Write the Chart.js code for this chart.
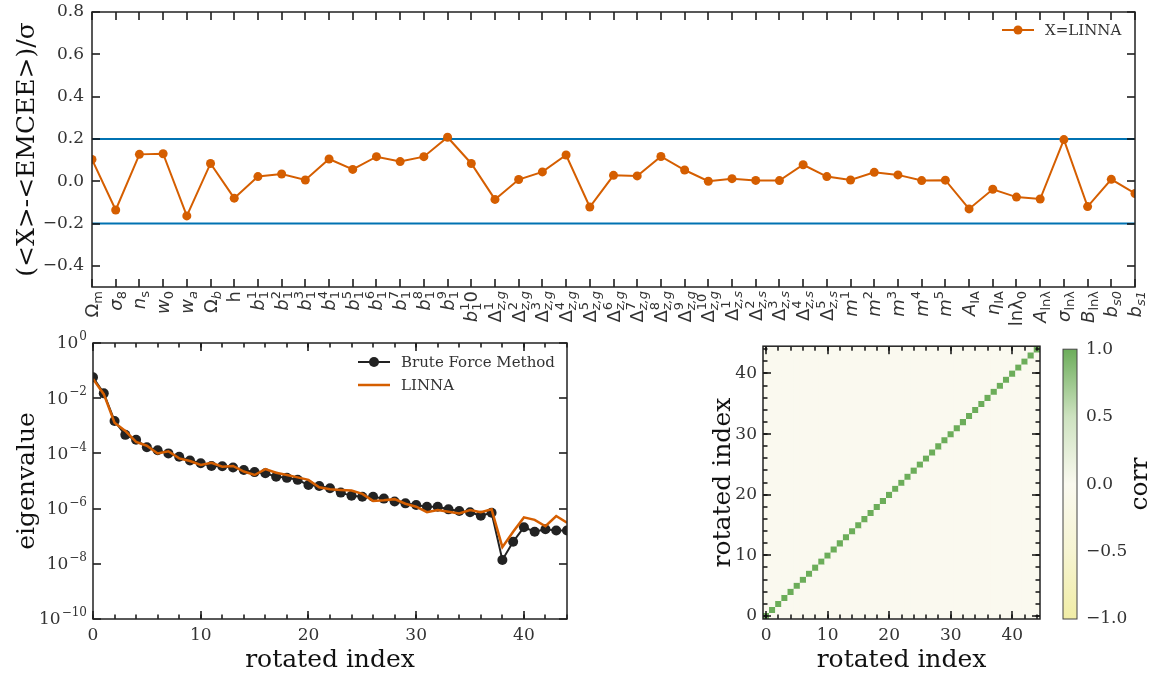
<!DOCTYPE html>
<html lang="en">
<head>
<meta charset="utf-8">
<title>LINNA vs EMCEE</title>
<style>
  body { margin: 0; background: #fff; width: 1164px; height: 676px; position: relative; overflow: hidden; }
  .box { position: absolute; }
  #topBox  { left: 0;      top: 0;     width: 1164px; height: 330px; }
  #eigBox  { left: 0;      top: 330px; width: 600px;  height: 346px; }
  #corrBox { left: 690px;  top: 330px; width: 360px;  height: 346px; }
  #cbarBox { left: 1050px; top: 330px; width: 114px;  height: 346px; }
</style>
</head>
<body>
<div class="box" id="topBox"><canvas id="topChart"></canvas></div>
<div class="box" id="eigBox"><canvas id="eigChart"></canvas></div>
<div class="box" id="corrBox"><canvas id="corrChart"></canvas></div>
<div class="box" id="cbarBox"><canvas id="cbarChart"></canvas></div>

<script src="https://cdn.jsdelivr.net/npm/chart.js@4/dist/chart.umd.min.js"></script>
<script>
// ---- data ----
// parameter labels: [base, baseItalic, sub, subItalic, sup, tail]
const paramLabels = [
  ['Ω', 0, 'm', 0], ['σ', 1, '8', 0], ['n', 1, 's', 0], ['w', 1, '0', 0], ['w', 1, 'a', 1],
  ['Ω', 0, 'b', 1], ['h', 0],
  ['b', 1, '1', 0, '1'], ['b', 1, '1', 0, '2'], ['b', 1, '1', 0, '3'], ['b', 1, '1', 0, '4'],
  ['b', 1, '1', 0, '5'], ['b', 1, '1', 0, '6'], ['b', 1, '1', 0, '7'], ['b', 1, '1', 0, '8'],
  ['b', 1, '1', 0, '9'], ['b', 1, '1', 0, '1', '0'],
  ['Δ', 0, 'z,g', 1, '1'], ['Δ', 0, 'z,g', 1, '2'], ['Δ', 0, 'z,g', 1, '3'], ['Δ', 0, 'z,g', 1, '4'],
  ['Δ', 0, 'z,g', 1, '5'], ['Δ', 0, 'z,g', 1, '6'], ['Δ', 0, 'z,g', 1, '7'], ['Δ', 0, 'z,g', 1, '8'],
  ['Δ', 0, 'z,g', 1, '9'], ['Δ', 0, 'z,g', 1, '10'],
  ['Δ', 0, 'z,s', 1, '1'], ['Δ', 0, 'z,s', 1, '2'], ['Δ', 0, 'z,s', 1, '3'], ['Δ', 0, 'z,s', 1, '4'],
  ['Δ', 0, 'z,s', 1, '5'],
  ['m', 1, '', 0, '1'], ['m', 1, '', 0, '2'], ['m', 1, '', 0, '3'], ['m', 1, '', 0, '4'], ['m', 1, '', 0, '5'],
  ['A', 1, 'IA', 0], ['η', 1, 'IA', 0], ['lnλ', 0, '0', 0], ['A', 1, 'lnλ', 0], ['σ', 1, 'lnλ', 0],
  ['B', 1, 'lnλ', 0], ['b', 1, 's0', 1], ['b', 1, 's1', 1]
];

// (<X> - <EMCEE>) / sigma for X = LINNA
const biasLinna = [
  0.103, -0.136, 0.127, 0.130, -0.164, 0.084, -0.080,
  0.022, 0.034, 0.006, 0.105, 0.056, 0.116, 0.093, 0.116, 0.208, 0.084,
  -0.086, 0.008, 0.044, 0.124, -0.122, 0.028, 0.025, 0.117, 0.053, 0.000,
  0.012, 0.004, 0.003, 0.078, 0.022,
  0.006, 0.042, 0.030, 0.003, 0.005,
  -0.131, -0.038, -0.075, -0.084, 0.197, -0.120, 0.009, -0.058
];
const bandLimits = [0.2, -0.2];
const biasTicks = [-0.4, -0.2, 0, 0.2, 0.4, 0.6, 0.8];

const rotatedIndex = [0, 1, 2, 3, 4, 5, 6, 7, 8, 9, 10, 11, 12, 13, 14, 15, 16, 17, 18, 19, 20, 21, 22,
  23, 24, 25, 26, 27, 28, 29, 30, 31, 32, 33, 34, 35, 36, 37, 38, 39, 40, 41, 42, 43, 44];

const eigBrute = [
  5.7e-2, 1.5e-2, 1.5e-3, 4.7e-4, 3.1e-4, 1.66e-4, 1.3e-4, 1.0e-4, 7.6e-5, 5.5e-5,
  4.4e-5, 3.5e-5, 3.4e-5, 3.1e-5, 2.5e-5, 2.1e-5, 1.9e-5, 1.44e-5, 1.3e-5, 1.1e-5,
  7.2e-6, 6.6e-6, 5.5e-6, 3.8e-6, 2.9e-6, 2.7e-6, 2.7e-6, 2.3e-6, 1.8e-6, 1.55e-6,
  1.35e-6, 1.17e-6, 1.17e-6, 9.4e-7, 8.2e-7, 7.4e-7, 5.5e-7, 7.1e-7, 1.38e-8, 6.3e-8,
  2.1e-7, 1.45e-7, 1.78e-7, 1.6e-7, 1.6e-7
];
const eigLinna = [
  5.0e-2, 1.4e-2, 1.3e-3, 6.5e-4, 2.6e-4, 1.9e-4, 1.0e-4, 1.2e-4, 6.6e-5, 5.3e-5,
  3.8e-5, 4.6e-5, 3.3e-5, 3.5e-5, 2.2e-5, 1.65e-5, 2.7e-5, 2.0e-5, 1.65e-5, 1.35e-5,
  1.1e-5, 5.9e-6, 5.0e-6, 4.7e-6, 4.5e-6, 3.4e-6, 1.9e-6, 2.0e-6, 2.2e-6, 1.5e-6,
  1.17e-6, 7.4e-7, 8.9e-7, 7.7e-7, 6.7e-7, 8.9e-7, 7.4e-7, 9.4e-7, 4.0e-8, 1.45e-7,
  4.8e-7, 3.9e-7, 2.3e-7, 5.4e-7, 3.1e-7
];
const eigTicks = [1e-10, 1e-8, 1e-6, 1e-4, 1e-2, 1];
const indexTicks = [0, 10, 20, 30, 40];

// correlation of the rotated parameters: 1 on the diagonal, ~0 elsewhere
const corrDiag = 1.0;
const corrOff = 0.0;
const corrRange = [-1, 1];
const cbarTicks = [-1, -0.5, 0, 0.5, 1];
const cmapStops = [[-1, '#f1eda6'], [-0.5, '#f6f4d2'], [0, '#faf9ef'], [0.5, '#cde2c0'], [1, '#6cad5a']];

// ---- helpers ----
const ORANGE = '#d55e00', BLUE = '#0072b2', INK = '#222222', TXT = '#333333';
Chart.defaults.font.family = '"DejaVu Serif", serif';
Chart.defaults.color = TXT;
Chart.defaults.animation = false;
Chart.defaults.events = [];
Chart.defaults.plugins.legend.display = false;
Chart.defaults.plugins.tooltip.enabled = false;

const tickFont = {size: 17};
const titleFont = {size: 25};
const minus = s => s.replace('-', '\u2212');
const fixTicks = vals => s => { s.ticks = vals.map(v => ({value: v})); };
const every = (a, b, step) => { const r = []; for (let v = a; v <= b; v += step) r.push(v); return r; };

function hexRgb(h) { return [1, 3, 5].map(k => parseInt(h.slice(k, k + 2), 16)); }
function cmap(v) {
  for (let k = 1; k < cmapStops.length; k++) {
    const [v0, c0] = cmapStops[k - 1], [v1, c1] = cmapStops[k];
    if (v <= v1) {
      const t = (v - v0) / (v1 - v0), a = hexRgb(c0), b = hexRgb(c1);
      return 'rgb(' + a.map((x, i) => Math.round(x + (b[i] - x) * t)).join(',') + ')';
    }
  }
  return cmapStops[cmapStops.length - 1][1];
}

// inward ticks on all four sides + frame (one plugin instance per chart)
function innerTicks(axes, frameWidth = 1.5, frameColor = INK) {
  return {
    id: 'innerTicks',
    afterDraw(chart) {
      const ctx = chart.ctx;
      const a = chart.chartArea;
      ctx.save();
      ctx.fillStyle = '#111';
      for (const id of Object.keys(axes)) {
        const s = chart.scales[id];
        const horiz = id === 'x';
        const marks = [];
        (axes[id].minor || []).forEach(v => marks.push([v, 4.5]));
        (axes[id].major || []).forEach(v => marks.push([v, 8]));
        for (const [v, len] of marks) {
          const p = Math.round(s.getPixelForValue(v));
          if (horiz) {
            ctx.fillRect(p - 0.75, a.bottom - len, 1.5, len);
            ctx.fillRect(p - 0.75, a.top, 1.5, len);
          } else {
            ctx.fillRect(a.left, p - 0.75, len, 1.5);
            ctx.fillRect(a.right - len, p - 0.75, len, 1.5);
          }
        }
      }
      ctx.lineWidth = frameWidth;
      ctx.strokeStyle = frameColor;
      ctx.strokeRect(a.left, a.top, a.right - a.left, a.bottom - a.top);
      ctx.restore();
    }
  };
}

// legend drawn inside the plot area
function boxLegend(items, x, y, gap) {
  return {
    id: 'boxLegend',
    afterDraw(chart) {
      const {ctx} = chart;
      ctx.save();
      ctx.font = '15px "DejaVu Serif"';
      ctx.textBaseline = 'middle';
      items.forEach((dsIndex, k) => {
        const ds = chart.data.datasets[dsIndex];
        const yy = y + k * gap;
        ctx.strokeStyle = ds.borderColor;
        ctx.lineWidth = ds.borderWidth;
        ctx.beginPath(); ctx.moveTo(x, yy); ctx.lineTo(x + 32, yy); ctx.stroke();
        if (ds.pointRadius > 0) {
          ctx.fillStyle = ds.backgroundColor;
          ctx.beginPath(); ctx.arc(x + 16, yy, ds.pointRadius, 0, 2 * Math.PI); ctx.fill();
        }
        ctx.fillStyle = TXT;
        ctx.fillText(ds.label, x + 43, yy + 1);
      });
      ctx.restore();
    }
  };
}

// rotated parameter names with sub/superscripts
const mathTicks = {
  id: 'mathTicks',
  afterDraw(chart) {
    const {ctx, chartArea: a} = chart;
    const xs = chart.scales.x;
    const big = it => (it ? 'italic ' : '') + '18px "DejaVu Sans"';
    const small = it => (it ? 'italic ' : '') + '13px "DejaVu Sans"';
    ctx.save();
    ctx.fillStyle = TXT;
    ctx.textBaseline = 'alphabetic';
    paramLabels.forEach((lab, i) => {
      const [base, bi, sub = '', si = 0, sup = '', tail = ''] = lab;
      ctx.font = big(bi); const wb = ctx.measureText(base).width;
      ctx.font = small(si); const ws = ctx.measureText(sub).width;
      ctx.font = small(0); const wp = ctx.measureText(sup).width;
      ctx.font = big(0); const wt = ctx.measureText(tail).width;
      const w = wb + Math.max(ws, wp) + wt;
      ctx.save();
      ctx.translate(xs.getPixelForValue(i), a.bottom + 4);
      ctx.rotate(-Math.PI / 2);
      let x0 = -w;
      ctx.font = big(bi); ctx.fillText(base, x0, 6);
      x0 += wb;
      if (sub) { ctx.font = small(si); ctx.fillText(sub, x0, 10); }
      if (sup) { ctx.font = small(0); ctx.fillText(sup, x0, -2); }
      x0 += Math.max(ws, wp);
      if (tail) { ctx.font = big(0); ctx.fillText(tail, x0, 6); }
      ctx.restore();
    });
    ctx.restore();
  }
};

// 10^n labels for the log axis, exponent raised
const powLabels = {
  id: 'powLabels',
  afterDraw(chart) {
    const {ctx, chartArea: a} = chart;
    const ys = chart.scales.y;
    ctx.save();
    ctx.fillStyle = TXT;
    ctx.textBaseline = 'middle';
    eigTicks.forEach(v => {
      const y = ys.getPixelForValue(v);
      const e = minus(String(Math.round(Math.log10(v))));
      ctx.font = '12px "DejaVu Serif"';
      const we = ctx.measureText(e).width;
      ctx.textAlign = 'right';
      ctx.fillText(e, a.left - 6, y - 6);
      ctx.font = '17px "DejaVu Serif"';
      ctx.fillText('10', a.left - 7 - we, y + 1);
    });
    ctx.restore();
  }
};

const plotBg = {
  id: 'plotBg',
  beforeDatasetsDraw(chart) {
    const {ctx, chartArea: a} = chart;
    ctx.save();
    ctx.fillStyle = cmap(corrOff);
    ctx.fillRect(a.left, a.top, a.right - a.left, a.bottom - a.top);
    ctx.restore();
  }
};

function sideTitle(text, x) {
  return {
    id: 'sideTitle',
    afterDraw(chart) {
      const {ctx, chartArea: a} = chart;
      ctx.save();
      ctx.font = '25px "DejaVu Serif"';
      ctx.fillStyle = '#111';
      ctx.textAlign = 'center';
      ctx.textBaseline = 'middle';
      ctx.translate(x, (a.top + a.bottom) / 2);
      ctx.rotate(-Math.PI / 2);
      ctx.fillText(text, 0, 0);
      ctx.restore();
    }
  };
}

const axisTitle = text => ({display: true, text, font: titleFont, color: '#111'});
const quiet = {grid: {display: false, drawTicks: false}, border: {display: false}};
const noOverhang = w => s => { s.width = w; s.paddingTop = 0; s.paddingBottom = 0; };

// ---- top: parameter bias ----
new Chart(document.getElementById('topChart'), {
  type: 'line',
  data: {
    datasets: [
      {label: 'X=LINNA', data: biasLinna.map((v, i) => ({x: rotatedIndex[i], y: v})),
       borderColor: ORANGE, backgroundColor: ORANGE, borderWidth: 2, pointRadius: 4.5,
       pointBorderWidth: 0, tension: 0, clip: 0, order: 0},
      {label: '+0.2', data: [{x: 0, y: bandLimits[0]}, {x: 44, y: bandLimits[0]}],
       borderColor: BLUE, borderWidth: 2, pointRadius: 0, clip: 0, order: 1},
      {label: '-0.2', data: [{x: 0, y: bandLimits[1]}, {x: 44, y: bandLimits[1]}],
       borderColor: BLUE, borderWidth: 2, pointRadius: 0, clip: 0, order: 1}
    ]
  },
  options: {
    responsive: true, maintainAspectRatio: false,
    layout: {padding: {top: 12, right: 29, left: 0, bottom: 0}},
    scales: {
      x: {type: 'linear', min: 0, max: 44, ...quiet, ticks: {display: false},
          afterFit: s => { s.height = 43; s.paddingLeft = 0; s.paddingRight = 0; }},
      y: {min: -0.5, max: 0.8, ...quiet,
          ticks: {font: tickFont, padding: 8, callback: v => minus(v.toFixed(1))},
          afterBuildTicks: fixTicks(biasTicks), afterFit: noOverhang(92),
          title: {...axisTitle('(<X>-<EMCEE>)/σ'), padding: {top: 12, bottom: 0}}}
    }
  },
  plugins: [innerTicks({x: {major: rotatedIndex}, y: {major: biasTicks}}), mathTicks,
            boxLegend([0], 1002, 30, 23)]
});

// ---- bottom left: eigenvalues ----
new Chart(document.getElementById('eigChart'), {
  type: 'line',
  data: {
    datasets: [
      {label: 'Brute Force Method', data: eigBrute.map((v, i) => ({x: rotatedIndex[i], y: v})),
       borderColor: INK, backgroundColor: INK, borderWidth: 2, pointRadius: 5,
       pointBorderWidth: 0, tension: 0, clip: 0, order: 1},
      {label: 'LINNA', data: eigLinna.map((v, i) => ({x: rotatedIndex[i], y: v})),
       borderColor: ORANGE, borderWidth: 2.5, pointRadius: 0, tension: 0, clip: 0, order: 0}
    ]
  },
  options: {
    responsive: true, maintainAspectRatio: false,
    layout: {padding: {top: 13, right: 33, left: 0, bottom: 0}},
    scales: {
      x: {type: 'linear', min: 0, max: 44, ...quiet,
          ticks: {font: tickFont, padding: 6, maxRotation: 0},
          afterBuildTicks: fixTicks(indexTicks), afterFit: s => { s.height = 57; },
          title: {...axisTitle('rotated index'), padding: {top: 0, bottom: 1}}},
      y: {type: 'logarithmic', min: 1e-10, max: 1, ...quiet,
          ticks: {display: false},
          afterBuildTicks: fixTicks(eigTicks), afterFit: noOverhang(93),
          title: {...axisTitle('eigenvalue'), padding: {top: 12, bottom: 0}}}
    }
  },
  plugins: [innerTicks({x: {major: indexTicks, minor: every(0, 44, 2)}, y: {major: eigTicks}}),
            powLabels, boxLegend([0, 1], 358, 32, 23)]
});

// ---- bottom right: correlation matrix ----
const corrCells = [];
rotatedIndex.forEach(i => rotatedIndex.forEach(j => {
  corrCells.push({x: j, y: i, v: i === j ? corrDiag : corrOff});
}));

new Chart(document.getElementById('corrChart'), {
  type: 'scatter',
  data: {
    datasets: [{
      label: 'corr', data: corrCells, pointStyle: 'rect', borderWidth: 0, clip: 0,
      backgroundColor: c => cmap(c.raw ? c.raw.v : 0),
      pointRadius: c => {
        const a = c.chart.chartArea;
        return a ? ((a.right - a.left) / rotatedIndex.length) / Math.SQRT2 + 0.15 : 3;
      }
    }]
  },
  options: {
    responsive: true, maintainAspectRatio: false,
    layout: {padding: {top: 13, right: 10, left: 0, bottom: 0}},
    scales: {
      x: {type: 'linear', min: -0.5, max: 44.5, ...quiet,
          ticks: {font: tickFont, padding: 6, maxRotation: 0},
          afterBuildTicks: fixTicks(indexTicks), afterFit: s => { s.height = 57; },
          title: {...axisTitle('rotated index'), padding: {top: 0, bottom: 1}}},
      y: {type: 'linear', min: -0.5, max: 44.5, ...quiet,
          ticks: {font: tickFont, padding: 6},
          afterBuildTicks: fixTicks(indexTicks), afterFit: s => { s.width = 73; },
          title: {...axisTitle('rotated index'), padding: {top: 18, bottom: 0}}}
    }
  },
  plugins: [plotBg, innerTicks({x: {major: indexTicks, minor: every(0, 44, 2)},
                                y: {major: indexTicks, minor: every(0, 44, 2)}})]
});

// ---- colour bar ----
new Chart(document.getElementById('cbarChart'), {
  type: 'bar',
  data: {
    labels: ['corr'],
    datasets: [{
      data: [corrRange], borderWidth: 0, barPercentage: 1, categoryPercentage: 1,
      backgroundColor: c => {
        const a = c.chart.chartArea;
        if (!a) return cmap(0);
        const g = c.chart.ctx.createLinearGradient(0, a.bottom, 0, a.top);
        cmapStops.forEach(([v, col]) => g.addColorStop((v - corrRange[0]) / (corrRange[1] - corrRange[0]), col));
        return g;
      }
    }]
  },
  options: {
    responsive: true, maintainAspectRatio: false,
    layout: {padding: {top: 13, right: 0, left: 13, bottom: 57}},
    scales: {
      x: {display: false},
      y: {position: 'right', min: -1, max: 1, ...quiet,
          ticks: {font: tickFont, padding: 9, callback: v => minus(v.toFixed(1))},
          afterBuildTicks: fixTicks(cbarTicks), afterFit: s => { s.width = 87; }}
    }
  },
  plugins: [innerTicks({}, 1, '#444'), sideTitle('corr', 90)]
});
</script>
</body>
</html>
